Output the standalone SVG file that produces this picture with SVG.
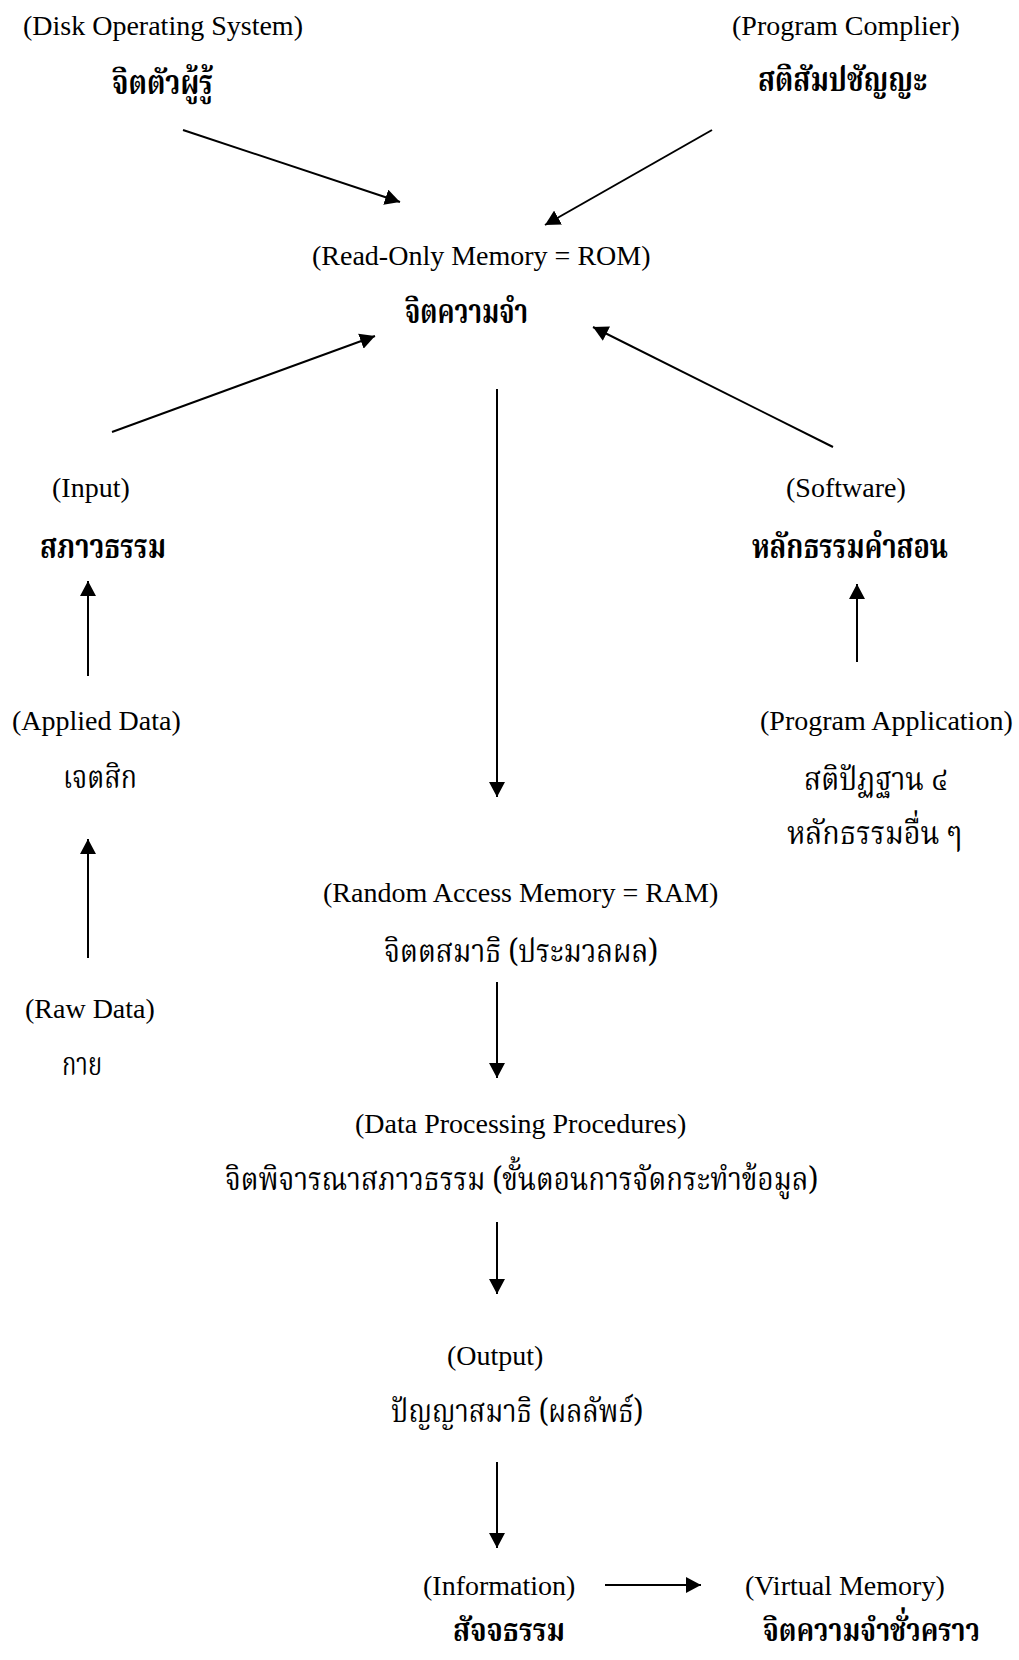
<svg xmlns="http://www.w3.org/2000/svg" width="1019" height="1660" viewBox="0 0 1019 1660">
  <style>
    .en { font-family: "Liberation Serif", "Times New Roman", serif; font-size: 28px; fill: #000; }
    .th { font-family: "Angsana New", "Noto Serif Thai", "Noto Sans Thai", "Liberation Serif", serif; font-size: 32px; fill: #000; }
    .thb { font-family: "Angsana New", "Noto Serif Thai", "Noto Sans Thai", "Liberation Serif", serif; font-size: 34px; font-weight: bold; fill: #000; }
    .low { font-size: 32px; }
    .link { stroke: #000; stroke-width: 2; fill: none; marker-end: url(#head); }
  </style>
  <defs>
    <marker id="head" markerUnits="userSpaceOnUse" markerWidth="16" markerHeight="16" refX="15" refY="8" orient="auto">
      <path d="M0,0 L15,8 L0,16 Z" fill="#000"/>
    </marker>
  </defs>
  <rect width="1019" height="1660" fill="#fff"/>

  <g id="connectors">
    <line class="link" x1="183" y1="130" x2="400" y2="202"/>
    <line class="link" x1="712" y1="130" x2="545" y2="225"/>
    <line class="link" x1="112" y1="432" x2="375" y2="336"/>
    <line class="link" x1="833" y1="447" x2="593" y2="327"/>
    <line class="link" x1="497" y1="389" x2="497" y2="797"/>
    <line class="link" x1="88" y1="676" x2="88" y2="581"/>
    <line class="link" x1="88" y1="958" x2="88" y2="839"/>
    <line class="link" x1="857" y1="662" x2="857" y2="584"/>
    <line class="link" x1="497" y1="982" x2="497" y2="1078"/>
    <line class="link" x1="497" y1="1222" x2="497" y2="1294"/>
    <line class="link" x1="497" y1="1462" x2="497" y2="1548"/>
    <line class="link" x1="605" y1="1585" x2="701" y2="1585"/>
  </g>

  <g id="node-dos">
    <text class="en" x="23" y="35">(Disk Operating System)</text>
    <text class="thb" x="112" y="94" textLength="101" lengthAdjust="spacingAndGlyphs">จิตตัวผู้รู้</text>
  </g>
  <g id="node-compiler">
    <text class="en" x="732" y="35">(Program Complier)</text>
    <text class="thb" x="758" y="91" textLength="169" lengthAdjust="spacingAndGlyphs">สติสัมปชัญญะ</text>
  </g>
  <g id="node-rom">
    <text class="en" x="312" y="265">(Read-Only Memory = ROM)</text>
    <text class="thb" x="405" y="323" textLength="123" lengthAdjust="spacingAndGlyphs">จิตความจำ</text>
  </g>
  <g id="node-input">
    <text class="en" x="52" y="497">(Input)</text>
    <text class="thb" x="40" y="558" textLength="126" lengthAdjust="spacingAndGlyphs">สภาวธรรม</text>
  </g>
  <g id="node-software">
    <text class="en" x="786" y="497">(Software)</text>
    <text class="thb" x="752" y="558" textLength="196" lengthAdjust="spacingAndGlyphs">หลักธรรมคำสอน</text>
  </g>
  <g id="node-applied">
    <text class="en" x="12" y="730">(Applied Data)</text>
    <text class="th" x="63" y="788" textLength="74" lengthAdjust="spacingAndGlyphs">เจตสิก</text>
  </g>
  <g id="node-application">
    <text class="en" x="760" y="730">(Program Application)</text>
    <text class="th" x="804" y="790" textLength="144" lengthAdjust="spacingAndGlyphs">สติปัฏฐาน ๔</text>
    <text class="th" x="787" y="844" textLength="175" lengthAdjust="spacingAndGlyphs">หลักธรรมอื่น ๆ</text>
  </g>
  <g id="node-raw">
    <text class="en" x="25" y="1018">(Raw Data)</text>
    <text class="th" x="62" y="1075" textLength="40" lengthAdjust="spacingAndGlyphs">กาย</text>
  </g>
  <g id="node-ram">
    <text class="en" x="323" y="902">(Random Access Memory = RAM)</text>
    <text class="th" x="384" y="962" textLength="274" lengthAdjust="spacingAndGlyphs">จิตตสมาธิ (ประมวลผล)</text>
  </g>
  <g id="node-processing">
    <text class="en" x="355" y="1133">(Data Processing Procedures)</text>
    <text class="th" x="225" y="1190" textLength="593" lengthAdjust="spacingAndGlyphs">จิตพิจารณาสภาวธรรม (ขั้นตอนการจัดกระทำข้อมูล)</text>
  </g>
  <g id="node-output">
    <text class="en" x="447" y="1365">(Output)</text>
    <text class="th" x="391" y="1422" textLength="252" lengthAdjust="spacingAndGlyphs">ปัญญาสมาธิ (ผลลัพธ์)</text>
  </g>
  <g id="node-information">
    <text class="en" x="423" y="1595">(Information)</text>
    <text class="thb low" x="453" y="1641" textLength="112" lengthAdjust="spacingAndGlyphs">สัจจธรรม</text>
  </g>
  <g id="node-virtual">
    <text class="en" x="745" y="1595">(Virtual Memory)</text>
    <text class="thb low" x="980" y="1641" text-anchor="end" textLength="217" lengthAdjust="spacingAndGlyphs">จิตความจำชั่วคราว</text>
  </g>
</svg>
